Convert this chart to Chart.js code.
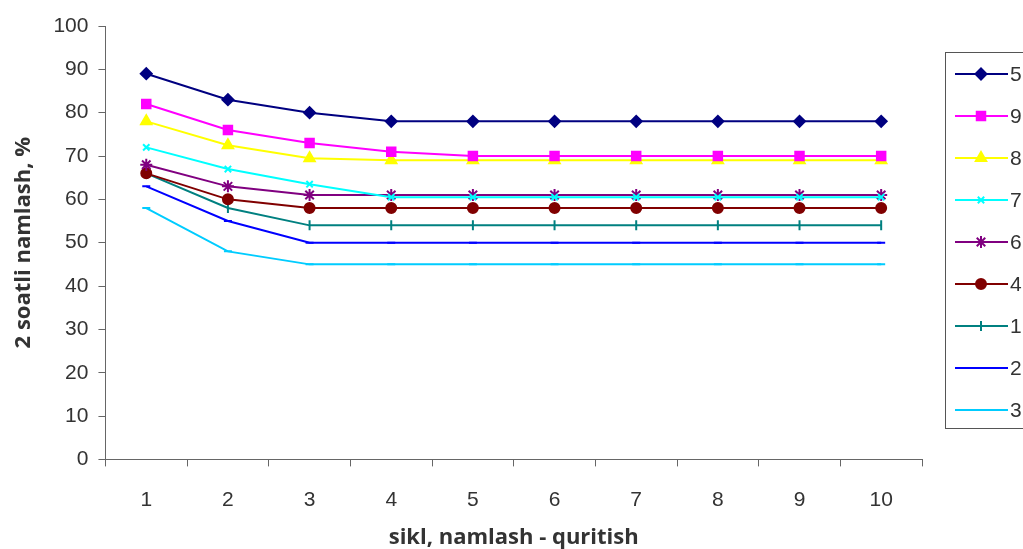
<!DOCTYPE html>
<html>
<head>
<meta charset="utf-8">
<script src="https://cdn.jsdelivr.net/npm/chart.js@4/dist/chart.umd.min.js"></script>
<style>
  html, body { margin: 0; padding: 0; background: #fff; overflow: hidden; }
  #wrap { width: 1023px; height: 549px; }
</style>
</head>
<body>
<div id="wrap"><canvas id="chart" width="1023" height="549"></canvas></div>
<script>
const cycles = ["1", "2", "3", "4", "5", "6", "7", "8", "9", "10"];
const seriesNames = ["5", "9", "8", "7", "6", "4", "1", "2", "3"];

const s5 = [89, 83, 80, 78, 78, 78, 78, 78, 78, 78];
const s9 = [82, 76, 73, 71, 70, 70, 70, 70, 70, 70];
const s8 = [78, 72.5, 69.5, 69, 69, 69, 69, 69, 69, 69];
const s7 = [72, 67, 63.5, 60.5, 60.5, 60.5, 60.5, 60.5, 60.5, 60.5];
const s6 = [68, 63, 61, 61, 61, 61, 61, 61, 61, 61];
const s4 = [66, 60, 58, 58, 58, 58, 58, 58, 58, 58];
const s1 = [66, 58, 54, 54, 54, 54, 54, 54, 54, 54];
const s2 = [63, 55, 50, 50, 50, 50, 50, 50, 50, 50];
const s3 = [58, 48, 45, 45, 45, 45, 45, 45, 45, 45];

const seriesValues = [s5, s9, s8, s7, s6, s4, s1, s2, s3];
const colors = ["#000080", "#ff00ff", "#ffff00", "#00ffff", "#800080", "#800000", "#008080", "#0000ff", "#00ccff"];
const markers = [
  { style: "rectRot", radius: 5.5, rotation: 0 },
  { style: "rect", radius: 6, rotation: 0 },
  { style: "triangle", radius: 6, rotation: 0 },
  { style: "crossRot", radius: 4.5, rotation: 0 },
  { style: "star", radius: 6, rotation: 0 },
  { style: "circle", radius: 5, rotation: 0 },
  { style: "line", radius: 5, rotation: 90 },
  { style: "line", radius: 4, rotation: 0 },
  { style: "line", radius: 4, rotation: 0 }
];

const datasets = seriesNames.map((name, i) => ({
  label: name,
  data: seriesValues[i],
  borderColor: colors[i],
  backgroundColor: colors[i],
  borderWidth: 2,
  pointStyle: markers[i].style,
  pointRadius: markers[i].radius,
  pointRotation: markers[i].rotation,
  pointBorderWidth: 2,
  pointBorderColor: colors[i],
  pointBackgroundColor: colors[i],
  tension: 0
}));

// Excel-style legend box on the right, running off the canvas edge
const sideLegend = {
  id: "sideLegend",
  afterDraw(chart) {
    const ctx = chart.ctx;
    const left = 945, top = 52, bottom = 428;
    ctx.save();
    ctx.strokeStyle = "#555";
    ctx.lineWidth = 1;
    ctx.strokeRect(left + 0.5, top + 0.5, 200, bottom - top);
    ctx.font = "21px 'Liberation Sans', Arial, sans-serif";
    ctx.textBaseline = "middle";
    chart.data.datasets.forEach((ds, i) => {
      const y = 74 + i * 42;
      ctx.strokeStyle = ds.borderColor;
      ctx.fillStyle = ds.backgroundColor;
      ctx.lineWidth = 2;
      ctx.beginPath();
      ctx.moveTo(955, y);
      ctx.lineTo(1008, y);
      ctx.stroke();
      Chart.helpers.drawPoint(ctx, {
        pointStyle: ds.pointStyle,
        radius: ds.pointRadius,
        rotation: ds.pointRotation,
        borderWidth: 2
      }, 981, y);
      ctx.fillStyle = "#333";
      ctx.fillText(ds.label, 1010, y + 1);
    });
    ctx.restore();
  }
};

new Chart(document.getElementById("chart"), {
  type: "line",
  data: { labels: cycles, datasets: datasets },
  options: {
    responsive: false,
    animation: false,
    layout: { padding: { left: 11, right: 101, top: 26, bottom: -2 } },
    plugins: {
      legend: { display: false },
      tooltip: { enabled: false }
    },
    scales: {
      x: {
        offset: true,
        grid: { offset: true, drawOnChartArea: false, drawTicks: true, tickLength: 7, color: "#666" },
        border: { display: true, color: "#666", width: 1 },
        ticks: { color: "#333", font: { family: "'Liberation Sans', Arial, sans-serif", size: 21 }, padding: 21 },
        title: {
          display: true,
          text: "sikl, namlash - quritish",
          color: "#333",
          font: { family: "'Open Sans', sans-serif", size: 22, weight: "bold" },
          padding: { top: -9, bottom: 0 }
        }
      },
      y: {
        min: 0,
        max: 100,
        ticks: { stepSize: 10, color: "#333", font: { family: "'Liberation Sans', Arial, sans-serif", size: 21 }, padding: 10 },
        grid: { drawOnChartArea: false, drawTicks: true, tickLength: 7, color: "#666" },
        border: { display: true, color: "#666", width: 1 },
        title: {
          display: true,
          text: "2 soatli namlash, %",
          color: "#333",
          font: { family: "'Open Sans', sans-serif", size: 22, weight: "bold" },
          padding: { top: 0, bottom: 6 }
        }
      }
    }
  },
  plugins: [sideLegend]
});
</script>
</body>
</html>
